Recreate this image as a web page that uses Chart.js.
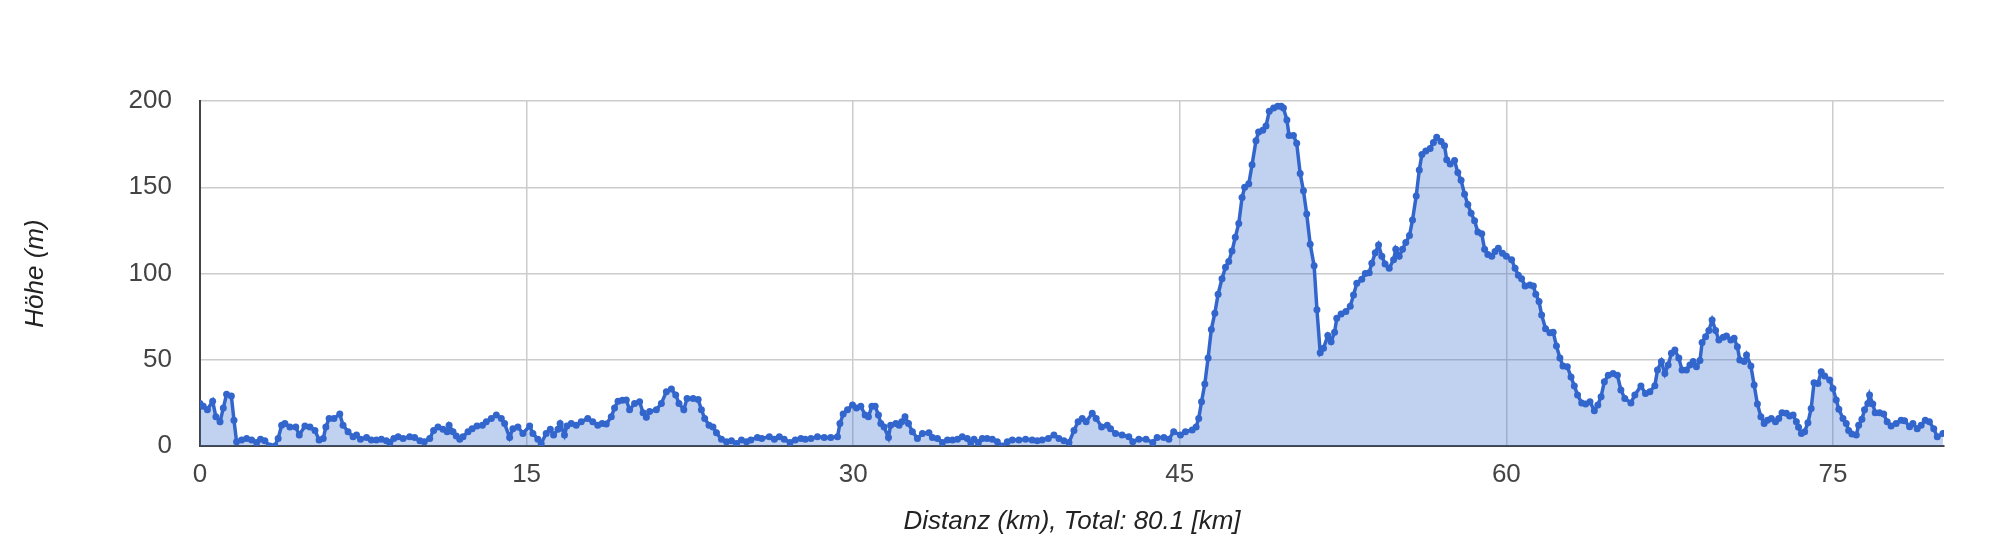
<!DOCTYPE html>
<html><head><meta charset="utf-8">
<script src="https://cdn.jsdelivr.net/npm/chart.js@4.4.1/dist/chart.umd.min.js"></script>
<style>html,body{margin:0;padding:0;background:#fff}#wrap{width:1998px;height:544px;position:relative}</style>
</head><body><div id="wrap"><canvas id="c" width="1998" height="544"></canvas></div>
<script>
const distanceKm = [
0,0.15,0.34,0.58,0.73,0.92,1.07,1.22,1.44,1.56,1.68,1.91,2.14,2.37,2.6,2.78,2.98,3.21,3.44,3.59,3.75,3.9,4.13,4.4,4.56,4.82,5.05,5.28,5.47,5.66,5.78,5.93,6.15,6.42,6.57,6.8,7.03,7.19,7.37,7.65,7.87,8.1,8.33,8.56,8.72,8.9,9.1,9.33,9.63,9.86,10.1,10.3,10.55,10.73,10.93,11.16,11.35,11.44,11.62,11.77,11.93,12.08,12.31,12.5,12.72,12.97,
13.15,13.38,13.61,13.84,13.99,14.22,14.37,14.6,14.83,15.14,15.29,15.52,15.67,15.9,16.09,16.24,16.44,16.54,16.74,16.85,17.05,17.28,17.51,17.81,18.04,18.27,18.47,18.66,18.89,19.04,19.2,19.4,19.58,19.73,19.96,20.19,20.35,20.5,20.65,20.96,21.19,21.42,21.65,21.85,22.0,22.22,22.37,22.65,22.88,23.03,23.18,23.38,23.56,23.72,23.95,24.18,24.41,24.64,24.87,25.1,25.3,25.6,25.8,
26.15,26.38,26.61,26.83,27.1,27.34,27.6,27.8,28.06,28.36,28.67,28.97,29.28,29.39,29.54,29.74,29.97,30.15,30.35,30.55,30.7,30.86,31.01,31.16,31.27,31.42,31.62,31.72,31.96,32.11,32.23,32.38,32.54,32.72,32.95,33.18,33.48,33.64,33.87,34.1,34.33,34.56,34.79,35.01,35.24,35.4,35.55,35.75,35.93,36.15,36.39,36.62,36.85,37.08,37.31,37.61,37.92,38.22,38.45,38.68,38.96,39.22,
39.45,39.68,39.91,40.14,40.33,40.52,40.7,40.98,41.16,41.41,41.67,41.82,42.05,42.35,42.66,42.84,43.12,43.45,43.76,43.96,44.27,44.5,44.72,45.03,45.26,45.57,45.75,45.87,46.0,46.15,46.3,46.45,46.61,46.76,46.94,47.1,47.25,47.4,47.55,47.71,47.86,47.98,48.17,48.32,48.5,48.62,48.81,48.96,49.11,49.31,49.5,49.66,49.76,49.92,50.02,50.22,50.37,50.53,50.68,50.83,50.99,51.17,51.3,51.45,51.6,51.8,51.95,52.11,52.21,52.41,52.63,52.83,52.98,53.13,
53.36,53.52,53.7,53.82,53.98,54.13,54.28,54.43,54.62,54.82,54.92,55.08,55.23,55.38,55.55,55.69,55.86,56.0,56.12,56.3,56.5,56.65,56.8,57.0,57.16,57.26,57.42,57.62,57.77,57.92,58.08,58.23,58.38,58.54,58.69,58.87,59.0,59.15,59.33,59.48,59.63,59.82,60.0,60.24,60.4,60.55,60.7,60.86,61.08,61.24,61.35,61.5,61.62,61.8,62.0,62.15,62.3,62.46,62.6,62.8,62.97,63.12,63.27,63.46,63.64,63.84,64.04,64.2,64.35,64.5,64.68,64.9,65.1,65.26,65.44,65.72,65.9,66.18,
66.39,66.59,66.82,66.94,67.12,67.28,67.43,67.58,67.74,67.92,68.07,68.27,68.43,68.58,68.73,68.89,68.99,69.15,69.3,69.45,69.61,69.76,69.96,70.11,70.31,70.46,70.61,70.72,70.92,71.03,71.23,71.38,71.53,71.69,71.84,71.99,72.17,72.36,72.51,72.66,72.86,73.01,73.17,73.32,73.42,73.55,73.7,73.85,74.0,74.13,74.31,74.46,74.62,74.85,75.0,75.15,75.27,75.46,75.61,75.72,75.87,76.07,76.18,76.33,76.45,76.6,76.68,76.83,76.94,77.14,77.33,77.49,77.67,77.9,78.13,78.29,78.52,78.67,78.87,79.05,79.24,79.43,79.63,79.79,80.05
];
const elevationM = [
24.7,23,21,26,17,14,22,30,29,15,2.5,3.5,4.4,3.5,2,3.9,3,0,0,4.4,12,13,11,11,6.4,11.6,11,9,3.5,4.4,11,16,16,18.5,12,8.3,5.4,6.4,3.9,5,3.5,3.5,3.9,3,2,4.4,5.4,4.4,5.4,5,3,2.5,4.4,9,11,9.7,8.3,12,8.3,5.8,3.9,5.4,8.3,10,11.6,12,
14,16,18,16,13,5,10,11,7.3,11.6,7.3,3.9,1.5,7.3,9.7,6.4,9.7,13,6.4,11.6,13,12,14,16,14,12,13,12.7,17,22,26,26.5,26.7,21,24.7,25.7,19.3,16.6,20,21,24.7,31.5,33,29.6,24.7,21,27.6,27.6,27,21,16,12,11,7.7,3.9,2.5,3,1.5,3.5,2.5,3.5,5,4.4,
5.4,3.9,5.4,3.9,2,3.5,4.4,3.9,4.4,5.4,5,5,5.4,13,18.5,21,23.8,22,23,18,17,23,23,18,13,11,5,12,13,12,14,17,13,8.3,4.4,7.3,7.7,5,4.4,2,3.5,3.5,3.9,5.4,4.4,2,3.9,2,4.4,4.4,3.9,2.5,0,2.5,3.5,3.5,3.9,3.5,3,3.5,4.4,6.4,
4.4,3,2,9,14,16,14,19,16,11,12,10,7.3,6.4,5.4,2.5,3.9,3.9,2,5,5,3.9,8.3,6.4,8.3,9.3,11,16,25.7,36,51,67.6,77,88,97,103.6,107,113,121,129,144,150,152,163,177,182,183,185.5,194,196,197,197,196,189,180,180,175.5,158,148,134.5,117,104.5,79,54,56.6,64,60.5,66,74,76.5,78,81,87.5,94.3,
96.6,100,100.5,106,112,116.5,110,105.5,103,108,114,110,114,118,122,131,145,160,169,171,172.5,176,179,176.5,174,166,163.5,165.5,158.5,154,146,140,135,130.6,124,123,114,111,110,112.7,114.6,111.7,110,108,103,99,97,92.8,93.3,92.8,88,83.7,76,68,65.7,66,58,51,46.4,46,40,34.8,29.6,25,24.3,25.7,20.5,23.8,28.6,37.3,41,42,41,32.5,27.6,25,29.6,34.8,
30.5,31.5,35,44,49,42,47,53.7,55.6,51,44,44,47,49,46,49.5,60,63.4,67,73,67,61.4,63,63.8,61.4,62.4,57.6,49.9,49,52.8,46.4,35.4,24.3,17,13,15,16,14,16,19.3,19,17.4,18,14,10.8,7.3,8.3,13.5,21.8,36.7,36.3,43,40.6,38.3,33.4,26.7,21.3,16,13,9,7,6.4,12,15.5,21,24.7,29.6,24.3,19.3,19.3,18.5,14,11.6,13,15,14.7,11.2,13,10,12,15,14,10,5.4,7.3
];
const xTickStep = 15;
const yTickStep = 50;
const xMax = 80.1;
const yMax = 200;
const xTitle = 'Distanz (km), Total: 80.1 [km]';
const yTitle = 'Höhe (m)';

const FONT = 'Arial, "Liberation Sans", sans-serif';
const points = distanceKm.map((x, i) => ({x: x, y: elevationM[i]}));

new Chart(document.getElementById('c').getContext('2d'), {
  type: 'line',
  data: { datasets: [{
    data: points,
    borderColor: '#3366cc',
    backgroundColor: 'rgba(51,102,204,0.3)',
    fill: 'origin',
    borderWidth: 3.5,
    pointRadius: 3.5,
    pointBackgroundColor: '#3366cc',
    pointBorderWidth: 0,
    tension: 0
  }]},
  options: {
    responsive: false,
    animation: false,
    layout: { padding: { left: 0, right: 54, top: 101, bottom: 0 } },
    plugins: { legend: { display: false }, tooltip: { enabled: false } },
    scales: {
      x: {
        type: 'linear', min: 0, max: xMax,
        ticks: { stepSize: xTickStep, includeBounds: false, padding: 13, color: '#444', font: { family: FONT, size: 26 }, maxRotation: 0 },
        grid: { color: '#cccccc', lineWidth: 1.5, drawTicks: false },
        border: { display: true, color: '#444', width: 2 },
        title: { display: true, text: xTitle, color: '#222', font: { family: FONT, size: 26, style: 'italic' }, padding: { top: 0, bottom: 7 } },
        afterFit(s) { s.height = 98; }
      },
      y: {
        min: 0, max: yMax,
        ticks: { stepSize: yTickStep, padding: 28, color: '#444', font: { family: FONT, size: 26 } },
        grid: { color: '#cccccc', lineWidth: 1.5, drawTicks: false },
        border: { display: true, color: '#444', width: 2 },
        title: { display: true, text: yTitle, color: '#222', font: { family: FONT, size: 26, style: 'italic' }, padding: { top: 20, bottom: 0 } },
        afterFit(s) { s.width = 200; }
      }
    }
  }
});
</script></body></html>
